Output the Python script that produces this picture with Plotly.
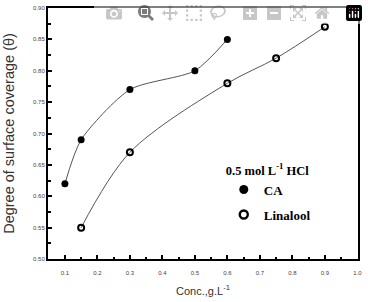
import plotly.graph_objects as go

ca_x = [0.1, 0.15, 0.3, 0.5, 0.6]
ca_y = [0.62, 0.69, 0.77, 0.80, 0.85]
lin_x = [0.15, 0.3, 0.6, 0.75, 0.9]
lin_y = [0.55, 0.67, 0.78, 0.82, 0.87]
x_tick_vals = [0.1, 0.2, 0.3, 0.4, 0.5, 0.6, 0.7, 0.8, 0.9, 1.0]
x_tick_text = ['0.1', '0.2', '0.3', '0.4', '0.5', '0.6', '0.7', '0.8', '0.9', '1.0']

fig = go.Figure()
fig.add_trace(go.Scatter(x=ca_x, y=ca_y, mode='lines+markers', showlegend=False,
                         line=dict(shape='spline', smoothing=0.7, color='#555', width=1),
                         marker=dict(symbol='circle', size=7, color='black')))
fig.add_trace(go.Scatter(x=lin_x, y=lin_y, mode='lines+markers', showlegend=False,
                         line=dict(shape='spline', smoothing=0.9, color='#555', width=1),
                         marker=dict(symbol='circle-open', size=6, color='black', line=dict(width=2))))
# legend-only entries
fig.add_trace(go.Scatter(x=[None], y=[None], mode='markers', name='<b>CA</b>', legendgroup='a',
                         marker=dict(symbol='circle', size=9, color='black')))
fig.add_trace(go.Scatter(x=[None], y=[None], mode='markers', name='<b>Linalool</b>', legendgroup='b',
                         marker=dict(symbol='circle-open', size=8, color='black', line=dict(width=2.4))))

tick_font = dict(family='Arial', size=6, color='#444')
axis_common = dict(showline=True, linecolor='black', linewidth=2, mirror=True,
                   ticks='inside', ticklen=4, tickwidth=1.5, tickcolor='black',
                   showgrid=False, zeroline=False, tickfont=tick_font)

fig.update_xaxes(range=[0.048, 1.002], tickmode='array', tickvals=x_tick_vals, ticktext=x_tick_text,
                 ticklabeloverflow='allow', ticklabelstandoff=7,
                 minor=dict(ticks='inside', tickmode='linear', dtick=0.05, tick0=0.05, ticklen=2.5, tickcolor='black'),
                 title=dict(text='Conc.,g.L<sup>-1</sup>', font=dict(family='Arial', size=11, color='#333'), standoff=12),
                 **axis_common)
fig.update_yaxes(range=[0.5, 0.9], dtick=0.05, tickformat='.2f',
                 minor=dict(ticks='inside', dtick=0.025, ticklen=2.5, tickcolor='black'),
                 title=dict(text='Degree of surface coverage (θ)', font=dict(family='Arial', size=14.5, color='#333'), standoff=15),
                 **axis_common)

fig.update_layout(width=368, height=302, margin=dict(l=48, r=10, t=5, b=43),
                  plot_bgcolor='white', paper_bgcolor='white',
                  legend=dict(x=0.567, y=0.401, xanchor='left', yanchor='top',
                              title=dict(text='<b>0.5 mol L<sup>-1</sup> HCl</b>',
                                         font=dict(family='Liberation Serif', size=12.5, color='black')),
                              font=dict(family='Liberation Serif', size=13, color='black'),
                              bgcolor='rgba(0,0,0,0)', tracegroupgap=5))
fig.write_html('out.html',
               post_script="document.body.style.margin='0';document.body.style.padding='0';")
